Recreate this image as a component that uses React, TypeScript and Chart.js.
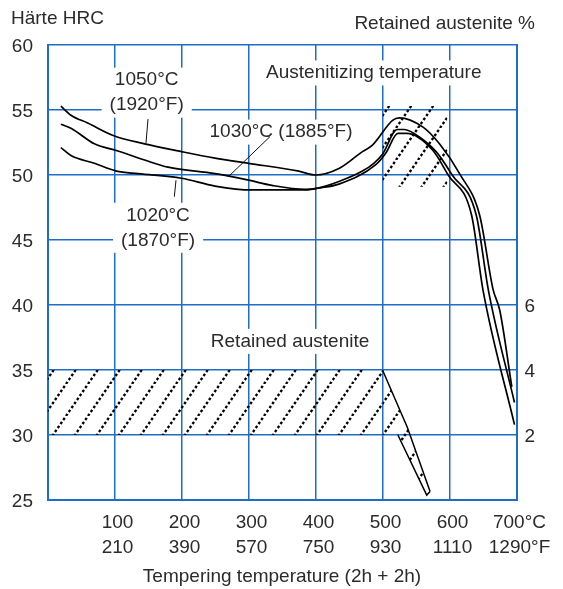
import React, { useEffect, useRef } from 'react';
import { Chart, registerables } from 'chart.js';

Chart.register(...registerables);

// ---- Data ----
const tempC = [100, 200, 300, 400, 500, 600, 700];
const tickC = ['100', '200', '300', '400', '500', '600', '700°C'];
const tickF = ['210', '390', '570', '750', '930', '1110', '1290°F'];
const austTicks = [2, 4, 6];

const x1050 = [20, 35, 60, 100, 145, 200, 250, 300, 375, 400, 435, 470, 485, 515, 525, 560, 585, 615, 645, 665, 675, 693];
const h1050 = [55.3, 54.6, 54.0, 53.0, 52.4, 51.8, 51.3, 50.9, 50.3, 50.0, 50.5, 51.8, 52.3, 54.2, 54.4, 53.7, 52.4, 50.1, 46.9, 41.2, 39.6, 33.7];

const x1030 = [20, 35, 70, 105, 145, 180, 250, 300, 335, 385, 400, 435, 470, 487, 500, 522, 532, 547, 580, 604, 640, 658, 697];
const h1030 = [53.9, 53.6, 52.4, 51.85, 51.15, 50.6, 50.1, 49.6, 49.2, 48.9, 48.95, 49.5, 50.3, 50.9, 51.6, 53.5, 53.5, 53.2, 51.8, 50.0, 46.9, 41.15, 32.5];

const x1020 = [20, 35, 70, 103, 135, 200, 250, 305, 385, 405, 435, 490, 505, 523, 536, 575, 598, 633, 650, 697];
const h1020 = [52.1, 51.5, 50.9, 50.3, 50.1, 49.75, 49.15, 48.85, 48.85, 49.0, 49.3, 50.8, 51.7, 53.2, 53.2, 51.9, 50.0, 46.9, 41.15, 30.8];

// Retained austenite band (% on right axis)
const raUpperX = [0, 500, 537, 571];
const raUpperY = [4, 4, 2.24, 0.26];
const raLowerX = [0, 523, 566, 571];
const raLowerY = [2, 2, 0.15, 0.26];

// Hatched zone near secondary hardness peak (HRC)
const peakX = [500, 597];
const peakTop = [55.3, 55.3];
const peakBottom = [49.1, 49.1];

// ---- Style ----
const BLUE = '#1e6ec8';
const TXT = '#2b2b2b';
const FAMILY = '"Liberation Sans", Arial, Helvetica, sans-serif';
const FS = 19;
const LH = 25;

const notes = [
  { text: ['1050°C', '(1920°F)'], x: 148, y: 57.3, padX: 8 },
  { text: ['1030°C (1885°F)'], x: 348.5, y: 53.3, padX: 6 },
  { text: ['1020°C', '(1870°F)'], x: 165, y: 46.9, padX: 8 },
  { text: ['Austenitizing temperature'], x: 487, y: 57.85, padX: 6 },
  { text: ['Retained austenite'], x: 362, y: 37.2, padX: 8 },
];
const leaders = [
  [150, 54.3, 147, 52.46],
  [332, 52.95, 270, 49.87],
  [191.8, 49.6, 189.3, 48.33],
];

const pts = (xs: number[], ys: number[]) => xs.map((x, i) => ({ x, y: ys[i] }));

function makeHatch(): any {
  const W = 22, H = 32;
  const c = document.createElement('canvas');
  c.width = W; c.height = H;
  const g = c.getContext('2d');
  if (!g) return 'rgba(0,0,0,0.2)';
  g.strokeStyle = '#000';
  g.lineWidth = 2.3;
  const len = Math.hypot(W, H);
  const seg = len / 8;
  g.setLineDash([seg * 0.55, seg * 0.45]);
  for (const k of [-1, 0, 1]) {
    g.beginPath();
    g.moveTo(k * W, H);
    g.lineTo(k * W + W, 0);
    g.stroke();
  }
  return g.createPattern(c, 'repeat');
}

const annotPlugin = {
  id: 'annot',
  beforeDatasetsDraw(chart: any) {
    const { ctx, scales } = chart;
    const x = scales.x, y = scales.y;
    ctx.save();
    ctx.font = `${FS}px ${FAMILY}`;
    ctx.textAlign = 'center';
    ctx.textBaseline = 'middle';
    for (const a of notes) {
      const cx = x.getPixelForValue(a.x);
      const cy = y.getPixelForValue(a.y);
      const w = Math.max(...a.text.map((l) => ctx.measureText(l).width)) + 2 * a.padX;
      const h = a.text.length * LH;
      ctx.fillStyle = '#fff';
      ctx.fillRect(cx - w / 2, cy - LH / 2, w, h);
      ctx.fillStyle = TXT;
      a.text.forEach((l, i) => ctx.fillText(l, cx, cy + i * LH));
    }
    ctx.strokeStyle = '#111';
    ctx.lineWidth = 1;
    for (const [x0, y0, x1, y1] of leaders) {
      ctx.beginPath();
      ctx.moveTo(x.getPixelForValue(x0), y.getPixelForValue(y0));
      ctx.lineTo(x.getPixelForValue(x1), y.getPixelForValue(y1));
      ctx.stroke();
    }
    ctx.restore();
  },
  afterDraw(chart: any) {
    const { ctx } = chart;
    ctx.save();
    ctx.font = `${FS}px ${FAMILY}`;
    ctx.fillStyle = TXT;
    ctx.textBaseline = 'middle';
    ctx.textAlign = 'left';
    ctx.fillText('Härte HRC', 11, 19);
    ctx.textAlign = 'right';
    ctx.fillText('Retained austenite %', 535, 24);
    ctx.restore();
  },
};

export default function App() {
  const ref = useRef<HTMLCanvasElement | null>(null);
  useEffect(() => {
    if (!ref.current) return;
    Chart.defaults.font.family = FAMILY;
    const hatch = makeHatch();
    const curve = (data: any[]) => ({
      data,
      yAxisID: 'y',
      borderColor: '#000',
      borderWidth: 1.7,
      pointRadius: 0,
      fill: false,
      cubicInterpolationMode: 'monotone' as const,
    });
    const chart = new Chart(ref.current, {
      type: 'line',
      data: {
        datasets: [
          curve(pts(x1050, h1050)),
          curve(pts(x1030, h1030)),
          curve(pts(x1020, h1020)),
          {
            data: pts(raUpperX, raUpperY),
            yAxisID: 'y2',
            borderWidth: 1.5,
            borderColor: '#000',
            segment: {
              borderColor: (c: any) => (c.p0.parsed.x >= 500 ? '#000' : 'rgba(0,0,0,0)'),
            },
            pointRadius: 0,
            fill: '+1',
            backgroundColor: hatch,
          },
          {
            data: pts(raLowerX, raLowerY),
            yAxisID: 'y2',
            borderWidth: 1.5,
            borderColor: '#000',
            segment: {
              borderColor: (c: any) => (c.p0.parsed.x >= 523 ? '#000' : 'rgba(0,0,0,0)'),
            },
            pointRadius: 0,
            fill: false,
          },
          {
            data: pts(peakX, peakTop),
            yAxisID: 'y',
            borderWidth: 0,
            borderColor: 'rgba(0,0,0,0)',
            pointRadius: 0,
            fill: '+1',
            backgroundColor: hatch,
          },
          {
            data: pts(peakX, peakBottom),
            yAxisID: 'y',
            borderWidth: 0,
            borderColor: 'rgba(0,0,0,0)',
            pointRadius: 0,
            fill: false,
          },
        ] as any,
      },
      options: {
        animation: false,
        responsive: false,
        layout: { padding: { top: 45, left: 0, right: 0, bottom: 0 } },
        plugins: {
          legend: { display: false },
          tooltip: { enabled: false },
        },
        scales: {
          x: {
            type: 'linear',
            position: 'bottom',
            min: 0,
            max: 700,
            afterFit: (s: any) => { s.height = 89; },
            afterBuildTicks: (s: any) => { s.ticks = [0, ...tempC].map((v) => ({ value: v })); },
            ticks: {
              autoSkip: false,
              maxRotation: 0,
              padding: 10.5,
              labelOffset: 3,
              color: TXT,
              font: { size: FS, lineHeight: LH / FS },
              callback: (v: any) => {
                const i = tempC.indexOf(Number(v));
                return i < 0 ? '' : [tickC[i], tickF[i]];
              },
            },
            grid: { color: BLUE, lineWidth: 1.5, drawTicks: false },
            border: { color: BLUE, width: 2 },
            title: {
              display: true,
              text: 'Tempering temperature (2h + 2h)',
              color: TXT,
              font: { size: FS, lineHeight: 1.2 },
              padding: { top: 2, bottom: 1 },
            },
          },
          y: {
            type: 'linear',
            position: 'left',
            min: 25,
            max: 60,
            afterFit: (s: any) => { s.width = 47.5; },
            ticks: {
              stepSize: 5,
              padding: 14.5,
              labelOffset: 2,
              color: TXT,
              font: { size: FS },
            },
            grid: { color: BLUE, lineWidth: 1.5, drawTicks: false },
            border: { color: BLUE, width: 2 },
          },
          y2: {
            type: 'linear',
            position: 'right',
            min: 0,
            max: 14,
            afterFit: (s: any) => { s.width = 46.5; },
            afterBuildTicks: (s: any) => { s.ticks = austTicks.map((v) => ({ value: v })); },
            ticks: {
              padding: 8,
              labelOffset: 2,
              color: TXT,
              font: { size: FS },
            },
            grid: { display: false, drawTicks: false },
            border: { color: BLUE, width: 2 },
          },
        },
      } as any,
      plugins: [annotPlugin],
    });
    return () => chart.destroy();
  }, []);
  return (
    <div style={{ position: 'absolute', left: 0, top: 0, width: 563, height: 589, background: '#fff' }}>
      <canvas ref={ref} width={563} height={589} style={{ display: 'block' }} />
    </div>
  );
}
